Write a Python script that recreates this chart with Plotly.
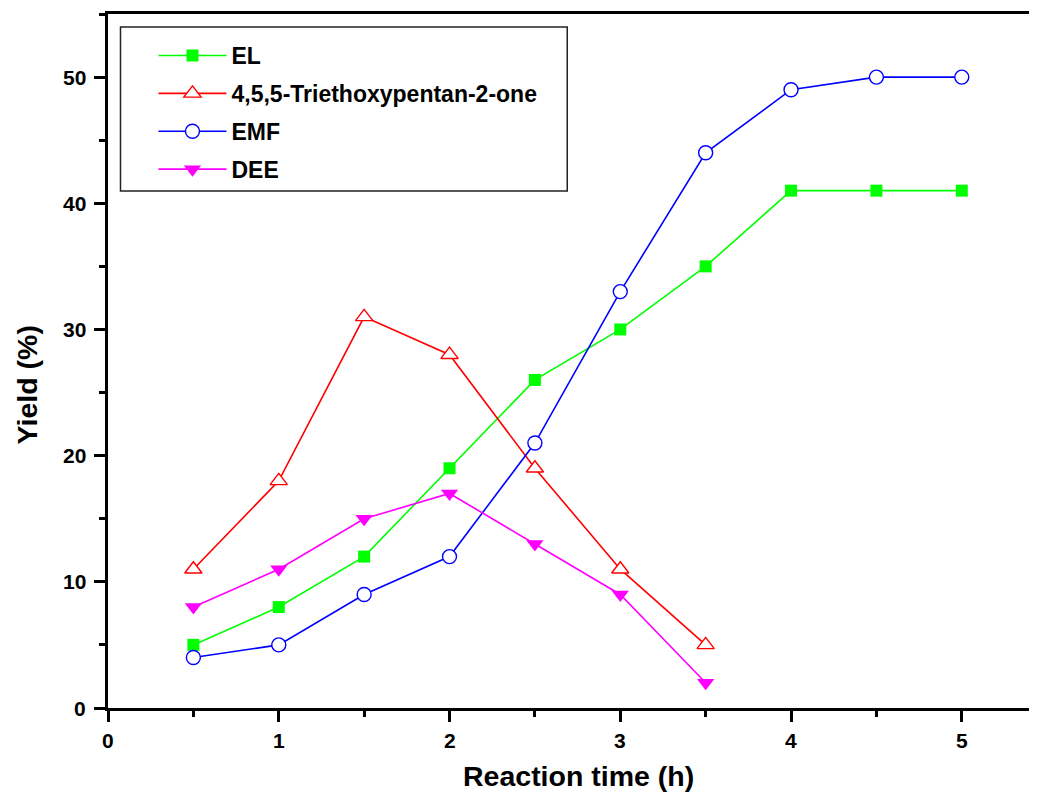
import plotly.graph_objects as go

time_full = [0.5, 1, 1.5, 2, 2.5, 3, 3.5, 4, 4.5, 5]
time_short = [0.5, 1, 1.5, 2, 2.5, 3, 3.5]

el_yield = [5, 8, 12, 19, 26, 30, 35, 41, 41, 41]
teop_yield = [11, 18, 31, 28, 19, 11, 5]
emf_yield = [4, 5, 9, 12, 21, 33, 44, 49, 50, 50]
dee_yield = [8, 11, 15, 17, 13, 9, 2]

names = ["EL", "4,5,5-Triethoxypentan-2-one", "EMF", "DEE"]

x_tick_vals = [0, 1, 2, 3, 4, 5]
y_tick_vals = [0, 10, 20, 30, 40, 50]

OFF = 8  # page body margin
W, H = 1037 - OFF, 805 - OFF
L, R, T = 107.5 - OFF, 0, 14 - OFF
ph = 694.3
B = H - T - ph
pw = W - L - R

fig = go.Figure()
fig.add_trace(go.Scatter(
    x=time_full, y=el_yield, name=names[0], mode="lines+markers", legendgroup="a",
    line=dict(color="#00ff00", width=1.6),
    marker=dict(symbol="square", size=12, color="#00ff00", line=dict(width=0))))
fig.add_trace(go.Scatter(
    x=time_short, y=teop_yield, name=names[1], mode="lines+markers", legendgroup="b",
    line=dict(color="#ff0000", width=1.6),
    marker=dict(symbol="triangle-up", size=15, color="white", line=dict(color="#ff0000", width=1.4))))
fig.add_trace(go.Scatter(
    x=time_full, y=emf_yield, name=names[2], mode="lines+markers", legendgroup="c",
    line=dict(color="#0000ff", width=1.6),
    marker=dict(symbol="circle", size=14, color="white", line=dict(color="#0000ff", width=1.4))))
fig.add_trace(go.Scatter(
    x=time_short, y=dee_yield, name=names[3], mode="lines+markers", legendgroup="d",
    line=dict(color="#ff00ff", width=1.6),
    marker=dict(symbol="triangle-down", size=15, color="#ff00ff", line=dict(width=0))))

def px_x(p):
    return (p - OFF - L) / pw

def px_y(p):
    return 1 - (p - OFF - T) / ph

fig.add_shape(type="rect", xref="paper", yref="paper",
              x0=px_x(120), x1=px_x(567), y0=px_y(191), y1=px_y(27),
              line=dict(color="#222222", width=1.5), fillcolor="rgba(0,0,0,0)")

font_bold = "Liberation Sans"
tick_font = dict(size=21, family=font_bold, weight="bold", color="black")

# tick labels as annotations anchored to the axes' own scales
for v in x_tick_vals:
    fig.add_annotation(text=str(v), xref="x", yref="paper", x=v, y=0,
                       xanchor="center", yanchor="middle", yshift=-32,
                       showarrow=False, font=tick_font)
for v in y_tick_vals:
    fig.add_annotation(text=str(v), xref="paper", yref="y", x=0, y=v,
                       xanchor="right", yanchor="middle", xshift=-20,
                       showarrow=False, font=tick_font)

fig.add_annotation(text="Reaction time (h)", xref="paper", yref="paper",
                   x=px_x(578.5), y=px_y(776), xanchor="center", yanchor="middle",
                   showarrow=False, font=dict(size=28.5, family=font_bold, weight="bold", color="black"))
fig.add_annotation(text="Yield (%)", xref="paper", yref="paper",
                   x=px_x(26), y=px_y(385), xanchor="center", yanchor="middle", textangle=-90,
                   showarrow=False, font=dict(size=28.5, family=font_bold, weight="bold", color="black"))

fig.update_layout(
    width=W, height=H,
    margin=dict(l=L, r=R, t=T, b=B, autoexpand=False),
    paper_bgcolor="white", plot_bgcolor="white",
    font=dict(family=font_bold, color="black"),
    showlegend=True,
    legend=dict(
        x=px_x(153), y=px_y(34), xanchor="left", yanchor="top",
        bgcolor="rgba(0,0,0,0)", borderwidth=0,
        font=dict(size=23, family=font_bold, color="black", weight="bold"),
        traceorder="grouped", tracegroupgap=5, itemwidth=68,
    ),
    xaxis=dict(
        range=[0, pw / 170.85], automargin=False,
        tickmode="array", tickvals=x_tick_vals, showticklabels=False,
        ticks="outside", ticklen=11, tickwidth=2.5, tickcolor="black",
        showline=True, linewidth=2.5, linecolor="black", mirror=True,
        showgrid=False, zeroline=False,
        minor=dict(dtick=0.5, tick0=0, ticks="outside", ticklen=6, tickwidth=2.5, tickcolor="black", showgrid=False),
    ),
    yaxis=dict(
        range=[0, 55], automargin=False,
        tickmode="array", tickvals=y_tick_vals, showticklabels=False,
        ticks="outside", ticklen=11, tickwidth=2.5, tickcolor="black",
        showline=True, linewidth=2.5, linecolor="black", mirror=False,
        showgrid=False, zeroline=False,
        minor=dict(dtick=5, tick0=0, ticks="outside", ticklen=6, tickwidth=2.5, tickcolor="black", showgrid=False),
    ),
)

fig.write_html("out.html")
